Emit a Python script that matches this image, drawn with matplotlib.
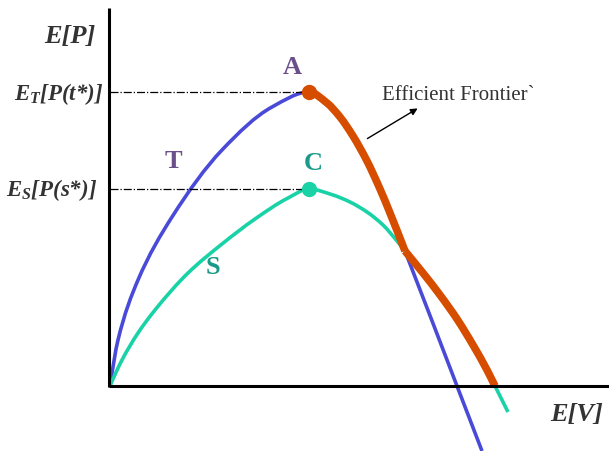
import numpy as np
import matplotlib.pyplot as plt
from matplotlib.path import Path
from matplotlib.patches import PathPatch

plt.rcParams['mathtext.fontset'] = 'custom'
plt.rcParams['mathtext.it'] = 'Liberation Serif:italic:bold'
plt.rcParams['mathtext.rm'] = 'Liberation Serif:italic:bold'

# curve T (risky portfolio)
t_x = [0, 8, 28, 62, 112, 162, 199, 217, 230, 243, 257, 270, 280, 295, 347, 372]
t_y = [0, 46, 106, 169, 236, 279, 294, 283, 269, 250, 225, 197, 173, 135, 0, -65]

# curve S (safe portfolio)
s_x = [0, 12, 28, 45, 78, 112, 145, 178, 199, 223, 240, 257, 273, 287, 295,
       313, 330, 347, 363, 377, 385, 398]
s_y = [0, 26, 53, 76, 113, 142, 167, 188, 197, 191, 184, 174, 161, 145, 135,
       113, 91, 67, 41, 16, 0, -26]

peak_t = (199, 294)
peak_s = (199, 197)
cross_x = 295

blue = '#4a4ad8'
green = '#19d2a6'
orange = '#d64d00'
purple = '#6b4f8a'
teal = '#1a9a88'
grey = '#333333'


def slopes(xs, ys):
    # monotone cubic (Fritsch-Carlson) tangents, flat at the peaks
    x = np.asarray(xs, float)
    y = np.asarray(ys, float)
    h = np.diff(x)
    d = np.diff(y) / h
    m = np.zeros_like(x)
    for k in range(1, len(x) - 1):
        if d[k - 1] * d[k] > 0:
            w1 = 2 * h[k] + h[k - 1]
            w2 = h[k] + 2 * h[k - 1]
            m[k] = (w1 + w2) / (w1 / d[k - 1] + w2 / d[k])
    m[0] = ((2 * h[0] + h[1]) * d[0] - h[0] * d[1]) / (h[0] + h[1])
    m[-1] = ((2 * h[-1] + h[-2]) * d[-1] - h[-1] * d[-2]) / (h[-1] + h[-2])
    return x, y, m


def hermite_path(xs, ys, i0=0, i1=None):
    x, y, m = slopes(xs, ys)
    if i1 is None:
        i1 = len(x) - 1
    verts = [(x[i0], y[i0])]
    codes = [Path.MOVETO]
    for i in range(i0, i1):
        h = x[i + 1] - x[i]
        verts += [(x[i] + h / 3, y[i] + m[i] * h / 3),
                  (x[i + 1] - h / 3, y[i + 1] - m[i + 1] * h / 3),
                  (x[i + 1], y[i + 1])]
        codes += [Path.CURVE4] * 3
    return Path(verts, codes)


fig = plt.figure(figsize=(6.09, 4.51), dpi=100)
ax = fig.add_axes([0, 0, 1, 1])
ax.set_xlim(-110, 499)
ax.set_ylim(-65, 386)
ax.axis('off')

# axes
ax.plot([-1, -1], [-1, 378], color='black', lw=2.2, solid_capstyle='butt')
ax.plot([-1, 499], [0, 0], color='black', lw=2.2, solid_capstyle='butt')

# reference lines
ax.plot([0, peak_t[0]], [peak_t[1], peak_t[1]], color='black', lw=0.9, ls='-.')
ax.plot([0, peak_s[0]], [peak_s[1], peak_s[1]], color='black', lw=0.9, ls='-.')

ax.add_patch(PathPatch(hermite_path(t_x, t_y), fill=False, edgecolor=blue, lw=2.6))
ax.add_patch(PathPatch(hermite_path(s_x, s_y), fill=False, edgecolor=green, lw=2.6))

# efficient frontier = T from its peak to the crossing, then S down to zero
ft = hermite_path(t_x, t_y, t_x.index(peak_t[0]), t_x.index(cross_x))
fs = hermite_path(s_x, s_y, s_x.index(cross_x), s_y.index(0, 1))
ax.add_patch(PathPatch(ft, fill=False, edgecolor=orange, lw=5.5, capstyle='butt'))
ax.add_patch(PathPatch(fs, fill=False, edgecolor=orange, lw=5.5, capstyle='butt'))
ax.plot(*peak_t, 'o', color=orange, ms=10)
ax.plot(*peak_s, 'o', color=green, ms=10)

lab = dict(family='Liberation Serif', weight='bold', style='italic', color=grey)
ax.text(-15, 349, 'E[P]', ha='right', va='center', fontsize=19, **lab)
ax.text(-7, 292, '$E_T$[P(t*)]', ha='right', va='center', fontsize=16.5, **lab)
ax.text(-13, 196, '$E_S$[P(s*)]', ha='right', va='center', fontsize=16.5, **lab)
ax.text(493, -29, 'E[V]', ha='right', va='center', fontsize=19, **lab)

pt = dict(family='Liberation Serif', weight='bold', fontsize=19, ha='center', va='center')
ax.text(182, 319, 'A', color=purple, **pt)
ax.text(63, 224, 'T', color=purple, **pt)
ax.text(203, 223, 'C', color=teal, **pt)
ax.text(103, 118, 'S', color=teal, **pt)

ax.text(272, 290, 'Efficient Frontier`', family='Liberation Serif', fontsize=15,
        color=grey, ha='left', va='center')
ax.annotate('', xy=(310, 279), xytext=(255, 246),
            arrowprops=dict(arrowstyle='-|>', color='black', lw=1, mutation_scale=10))

fig.savefig('out.png', dpi=100)
